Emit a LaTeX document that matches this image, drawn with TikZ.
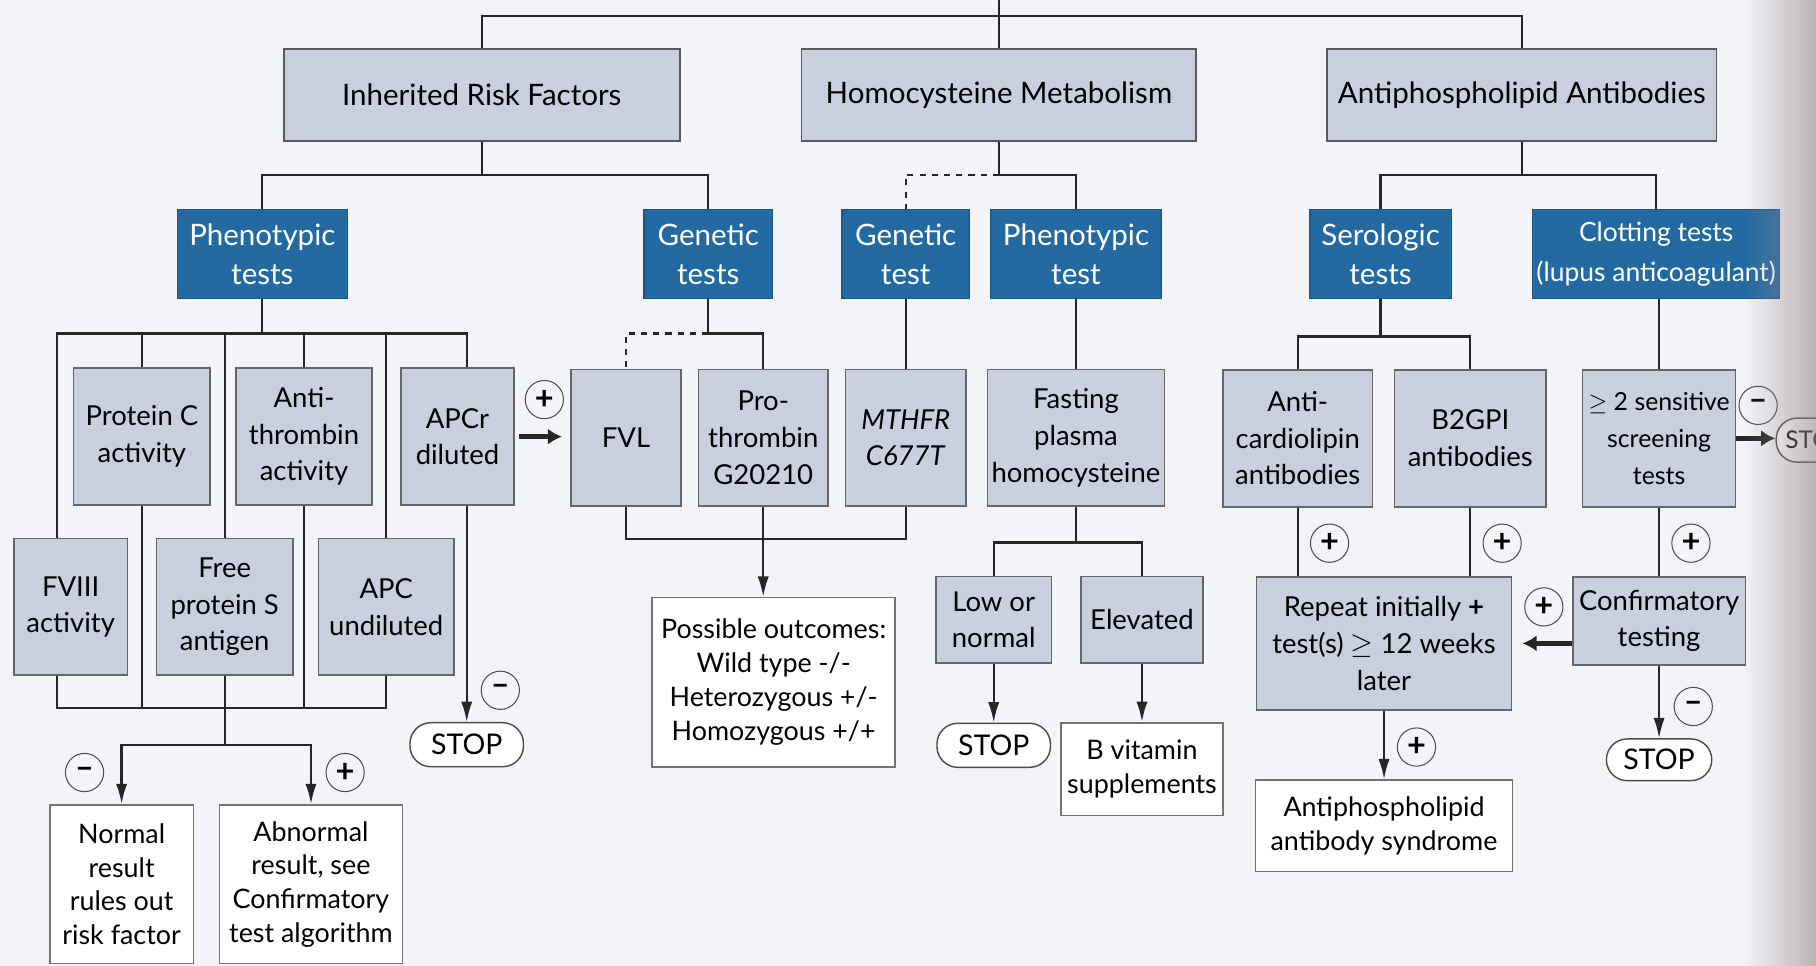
\documentclass[tikz,border=0pt]{standalone}
\usepackage{fontspec}
\setmainfont{Lato}
\usepackage{xcolor}
\usepackage{tikz}
\usetikzlibrary{arrows.meta,fadings}

\definecolor{pagebg}{RGB}{243,244,248}
\definecolor{boxgrey}{RGB}{200,207,222}
\definecolor{boxblue}{RGB}{36,106,162}
\definecolor{edgegrey}{RGB}{150,138,140}
\tikzfading[name=fadeedge, left color=transparent!100, right color=transparent!0]

\begin{document}
\begin{tikzpicture}[>={Latex[length=10pt,width=5.5pt]},
    conn/.style={draw=black!85, line width=1.1pt},
    thickarr/.style={draw=black!85, line width=2.2pt, -{Latex[length=7pt,width=8pt]}},
    catbox/.style={draw=black!65, line width=0.9pt, fill=boxgrey, minimum height=1.58cm, font=\fontsize{14.5}{17}\selectfont},
    bluebox/.style={draw=boxblue!80!black, line width=0.6pt, fill=boxblue, text=white, minimum height=1.54cm, align=center, inner sep=1pt, font=\fontsize{14.5}{19.5}\selectfont},
    testbox/.style={draw=black!60, line width=0.8pt, fill=boxgrey, minimum height=2.36cm, align=center, inner sep=1pt, font=\fontsize{13.5}{18}\selectfont},
    resbox/.style={draw=black!55, line width=0.8pt, fill=white, align=center, inner sep=1pt, font=\fontsize{13.2}{16.6}\selectfont},
    stopbox/.style={draw=black!70, line width=0.7pt, fill=white, rounded corners=0.36cm, minimum width=1.96cm, minimum height=0.76cm, font=\fontsize{14}{14}\selectfont},
    sign/.style={circle, draw=black!70, line width=0.5pt, minimum size=0.66cm, inner sep=0pt, font=\fontsize{16}{16}\selectfont\bfseries}]
    \useasboundingbox (0,0) rectangle (31.36,-16.68);
    \clip (0,0) rectangle (31.36,-16.68);
    \fill[pagebg] (0,0) rectangle (31.36,-16.68);

    % categories
    \node[catbox, minimum width=6.84cm] (irf) at (8.32,-1.64) {Inherited Risk Factors};
    \node[catbox, minimum width=6.82cm] (hcm) at (17.25,-1.64) {Homocysteine Metabolism};
    \node[catbox, minimum width=6.72cm] (apa) at (26.28,-1.64) {Antiphospholipid Antibodies};

    % test groups
    \node[bluebox, minimum width=2.94cm] (ptests) at (4.53,-4.39) {Phenotypic\\tests};
    \node[bluebox, minimum width=2.22cm] (gtests) at (12.23,-4.39) {Genetic\\tests};
    \node[bluebox, minimum width=2.20cm] (gtest) at (15.64,-4.39) {Genetic\\test};
    \node[bluebox, minimum width=2.96cm] (ptest) at (18.58,-4.39) {Phenotypic\\test};
    \node[bluebox, minimum width=2.44cm] (serol) at (23.84,-4.39) {Serologic\\tests};
    \node[bluebox, minimum width=4.26cm, font=\fontsize{13}{19.5}\selectfont] (clot) at (28.60,-4.39) {Clotting tests\\(lupus anticoagulant)};

    % single tests, upper row
    \node[testbox, minimum width=2.36cm] (protc) at (2.45,-7.54) {Protein C\\activity};
    \node[testbox, minimum width=2.34cm] (anti) at (5.25,-7.54) {Anti-\\thrombin\\activity};
    \node[testbox, minimum width=1.96cm] (apcr) at (7.90,-7.54) {APCr\\diluted};
    \node[testbox, minimum width=1.90cm] (fvl) at (10.81,-7.56) {FVL};
    \node[testbox, minimum width=2.24cm] (prot) at (13.18,-7.56) {Pro-\\thrombin\\G20210};
    \node[testbox, minimum width=2.08cm] (mthfr) at (15.64,-7.56) {\textit{MTHFR}\\\textit{C677T}};
    \node[testbox, minimum width=3.06cm] (fph) at (18.58,-7.56) {Fasting\\plasma\\homocysteine};
    \node[testbox, minimum width=2.58cm] (acl) at (22.41,-7.57) {Anti-\\cardiolipin\\antibodies};
    \node[testbox, minimum width=2.62cm] (b2gpi) at (25.39,-7.57) {B2GPI\\antibodies};
    \node[testbox, minimum width=2.64cm, font=\fontsize{12.2}{18}\selectfont] (sens) at (28.65,-7.57) {$\geq$ 2 sensitive\\screening\\tests};

    % single tests, lower row
    \node[testbox, minimum width=1.96cm] (fviii) at (1.22,-10.48) {FVIII\\activity};
    \node[testbox, minimum width=2.36cm] (fps) at (3.88,-10.48) {Free\\protein S\\antigen};
    \node[testbox, minimum width=2.34cm] (apcu) at (6.67,-10.48) {APC\\undiluted};

    % results
    \node[resbox, minimum width=2.48cm, minimum height=2.74cm] (normal) at (2.10,-15.27) {Normal\\result\\rules out\\risk factor};
    \node[resbox, minimum width=3.16cm, minimum height=2.74cm] (abnormal) at (5.37,-15.27) {Abnormal\\result, see\\Confirmatory\\test algorithm};
    \node[stopbox] (stopa) at (8.06,-12.86) {STOP};
    \node[resbox, minimum width=4.20cm, minimum height=2.92cm] (outc) at (13.36,-11.78) {Possible outcomes:\\Wild type -/-\\Heterozygous +/-\\Homozygous +/+};
    \node[testbox, minimum width=2.00cm, minimum height=1.49cm] (lown) at (17.16,-10.70) {Low or\\normal};
    \node[testbox, minimum width=2.10cm, minimum height=1.49cm] (elev) at (19.72,-10.70) {Elevated};
    \node[stopbox] (stopb) at (17.16,-12.87) {STOP};
    \node[resbox, minimum width=2.80cm, minimum height=1.60cm] (bvit) at (19.72,-13.28) {B vitamin\\supplements};
    \node[testbox, minimum width=4.40cm, minimum height=2.30cm] (repeat) at (23.90,-11.11) {Repeat initially \textbf{+}\\test(s) $\geq$ 12 weeks\\later};
    \node[testbox, minimum width=2.98cm, minimum height=1.52cm] (conf) at (28.65,-10.72) {Confirmatory\\testing};
    \node[resbox, minimum width=4.44cm, minimum height=1.58cm] (aps) at (23.90,-14.26) {Antiphospholipid\\antibody syndrome};
    \node[stopbox, minimum width=1.82cm, minimum height=0.72cm] (stopc) at (28.65,-13.12) {STOP};
    \node[stopbox, minimum width=0pt, inner xsep=0.16cm, anchor=west, font=\fontsize{12}{12}\selectfont] (stopd) at (30.66,-7.60) {STOP};

    % top level lines
    \coordinate (top) at (17.25,0);
    \coordinate (topbus) at (17.25,-0.28);
    \draw[conn] (top) -- (hcm.north);
    \draw[conn] (irf.north) |- (topbus) -| (apa.north);

    % second level lines
    \coordinate (irfbus) at (irf.south |- 0,-3.02);
    \draw[conn] (irf.south) -- (irfbus);
    \draw[conn] (ptests.north) |- (irfbus) -| (gtests.north);
    \coordinate (hcmbus) at (hcm.south |- 0,-3.02);
    \draw[conn] (hcm.south) -- (hcmbus) -| (ptest.north);
    \draw[conn, dashed] (hcmbus) -| (gtest.north);
    \coordinate (apabus) at (apa.south |- 0,-3.02);
    \draw[conn] (apa.south) -- (apabus);
    \draw[conn] (serol.north) |- (apabus) -| (clot.north);

    % phenotypic tests
    \coordinate (ptbus) at (ptests.south |- 0,-5.76);
    \draw[conn] (ptests.south) -- (ptbus);
    \draw[conn] (ptbus) -| (apcr.north -| stopa.north);
    \draw[conn] (ptbus) -| ([xshift=-0.24cm]fviii.north);
    \draw[conn] (ptbus) -| (protc.north);
    \draw[conn] (ptbus) -| (anti.north);
    \draw[conn] (ptbus) -| (fps.north);
    \draw[conn] (ptbus) -| (apcu.north);
    \coordinate (resbus) at (fps.south |- 0,-12.23);
    \draw[conn] ([xshift=-0.24cm]fviii.south) |- (resbus) -| (apcu.south);
    \draw[conn] (protc.south) -- (protc.south |- resbus);
    \draw[conn] (anti.south) -- (anti.south |- resbus);
    \draw[conn] (fps.south) -- (resbus);
    \coordinate (ressplit) at (fps.south |- 0,-12.86);
    \draw[conn] (resbus) -- (ressplit);
    \draw[conn, ->] (ressplit) -| (normal.north);
    \draw[conn, ->] (ressplit) -| (abnormal.north);
    \draw[thickarr, shorten <=2pt, shorten >=4pt] (apcr.east) -- (apcr.east -| fvl.west);
    \draw[conn, ->] (apcr.south -| stopa.north) -- (stopa.north);

    % genetic tests
    \coordinate (gtbus) at (gtests.south |- 0,-5.76);
    \draw[conn] (gtests.south) -- (gtbus) -| (prot.north);
    \draw[conn, dashed] (gtbus) -| (fvl.north);
    \draw[conn] (gtest.south) -- (mthfr.north);
    \coordinate (gjoin) at (prot.south |- 0,-9.31);
    \draw[conn] (fvl.south) |- (gjoin) -| (mthfr.south);
    \draw[conn, ->] (prot.south) -- (prot.south |- outc.north);

    % homocysteine
    \draw[conn] (ptest.south) -- (fph.north);
    \coordinate (fphbus) at (fph.south |- 0,-9.37);
    \draw[conn] (fph.south) -- (fphbus);
    \draw[conn] (lown.north) |- (fphbus) -| (elev.north);
    \draw[conn, ->] (lown.south) -- (stopb.north);
    \draw[conn, ->] (elev.south) -- (bvit.north);

    % antiphospholipid antibodies
    \coordinate (serbus) at (serol.south |- 0,-5.81);
    \draw[conn] (serol.south) -- (serbus);
    \draw[conn] (acl.north) |- (serbus) -| (b2gpi.north);
    \draw[conn] (clot.south -| sens.north) -- (sens.north);
    \draw[conn] (acl.south) -- (acl.south |- repeat.north);
    \draw[conn] (b2gpi.south) -- (b2gpi.south |- repeat.north);
    \draw[conn] (sens.south) -- (conf.north);
    \draw[thickarr] (sens.east) -- (sens.east -| stopd.west);
    \draw[thickarr, shorten >=5pt] (conf.west |- repeat.east) -- (repeat.east);
    \draw[conn, ->] (conf.south) -- (stopc.north);
    \draw[conn, ->] (repeat.south) -- (aps.north);

    % test results
    \node[sign] (posfvl) at (9.40,-6.90) {+};
    \node[sign] (negapcr) at (8.64,-11.92) {–};
    \node[sign] (negres) at (1.46,-13.34) {–};
    \node[sign] (posres) at (5.96,-13.34) {+};
    \node[sign] (posacl) at (22.96,-9.38) {+};
    \node[sign] (posb2) at (25.94,-9.38) {+};
    \node[sign] (possens) at (29.20,-9.38) {+};
    \node[sign] (negsens) at (30.36,-7.00) {–};
    \node[sign] (posconf) at (26.66,-10.48) {+};
    \node[sign] (negconf) at (29.24,-12.20) {–};
    \node[sign] (posrep) at (24.46,-12.90) {+};

    % page edge
    \fill[edgegrey, path fading=fadeedge, fill opacity=0.6] (30.1,0) rectangle (31.36,-16.68);
\end{tikzpicture}
\end{document}
